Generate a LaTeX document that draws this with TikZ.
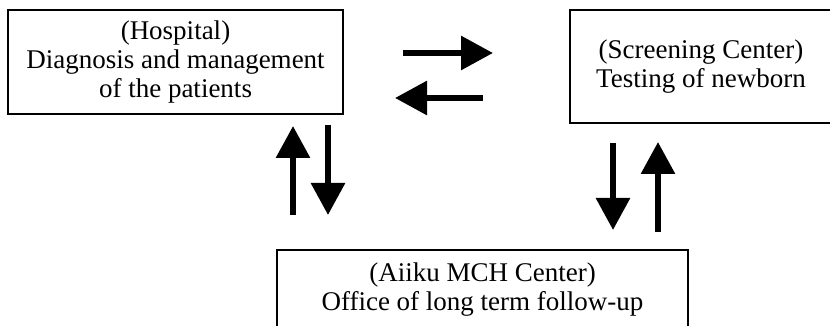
\documentclass[tikz,border=0pt]{standalone}
\usepackage{fontspec}
\setmainfont{Liberation Serif}
\usetikzlibrary{arrows.meta}

\tikzset{
	bigarrow/.style={line width=6pt, -{Triangle[length=32pt, width=33pt]}}
}

\begin{document}
\begin{tikzpicture}
	[
	x=1pt, y=1pt,
	align=center,
	every node/.style={rectangle, fill=white, draw=black, line width=2pt,
		font=\fontsize{27}{29}\selectfont, inner sep=0pt}
	]
		\clip (0, 0) rectangle (830, 326);
		
		% top row
		\node[minimum width=335pt, minimum height=104pt] (hosp) at (175.5, 264)
			{(Hospital)\\Diagnosis and management\\of the patients};
		\node[minimum width=262pt, minimum height=113pt] (screen) at (701, 259.5)
			{(Screening Center)\\Testing of newborn};
		
		% bottom row
		\node[minimum width=411pt, minimum height=80pt] (aiiku) at (482.5, 36)
			{(Aiiku MCH Center)\\Office of long term follow-up};
		
		% arrow ends
		\coordinate (hs1) at (403, 273);
		\coordinate (hs2) at (493, 273);
		\coordinate (sh1) at (483, 228);
		\coordinate (sh2) at (395, 228);
		\coordinate (ah1) at (293, 111);
		\coordinate (ah2) at (293, 200);
		\coordinate (ha1) at (328, 201);
		\coordinate (ha2) at (328, 111);
		\coordinate (sa1) at (613, 183);
		\coordinate (sa2) at (613, 96);
		\coordinate (as1) at (658, 94);
		\coordinate (as2) at (658, 184);
		
		% drawing code
		\foreach \from/\to in {hs1/hs2,sh1/sh2} \draw[bigarrow] (\from) -- (\to);
		\foreach \from/\to in {ah1/ah2,ha1/ha2,sa1/sa2,as1/as2} \draw[bigarrow] (\from) -- (\to);
	\end{tikzpicture}
\end{document}
